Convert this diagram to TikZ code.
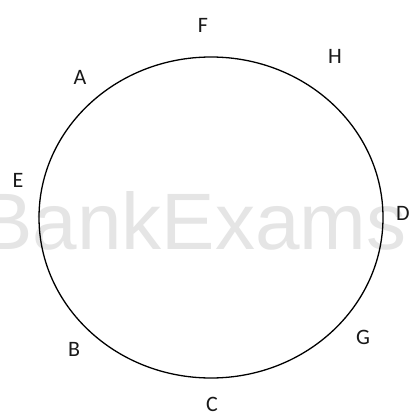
\documentclass[tikz,border=0pt]{standalone}
\usepackage{fontspec}
\setmainfont{Carlito}
\newfontfamily\wmfont{Liberation Sans}
\begin{document}
\begin{tikzpicture}[x=1pt,y=-1pt,
  lbl/.style={inner sep=0pt, font=\fontsize{22}{22}\selectfont, text=black!90},
  wm/.style={inner sep=0pt, font=\wmfont\fontsize{80}{80}\selectfont, text=black!10}]
\useasboundingbox (0,0) rectangle (408,412);
\clip (0,0) rectangle (408,412);
\fill[white] (0,0) rectangle (408,412);
\node[wm] (wmark) at (193,221) {BankExams};
\draw[line width=1.3pt] (211,217.5) ellipse [x radius=172, y radius=160.5];
\node[lbl] (F) at (203,25) {F};
\node[lbl] (H) at (335,56) {H};
\node[lbl] (A) at (80,77) {A};
\node[lbl] (E) at (18,180) {E};
\node[lbl] (D) at (403,213) {D};
\node[lbl] (G) at (363,337) {G};
\node[lbl] (B) at (74,349) {B};
\node[lbl] (C) at (212,404) {C};
\end{tikzpicture}
\end{document}
